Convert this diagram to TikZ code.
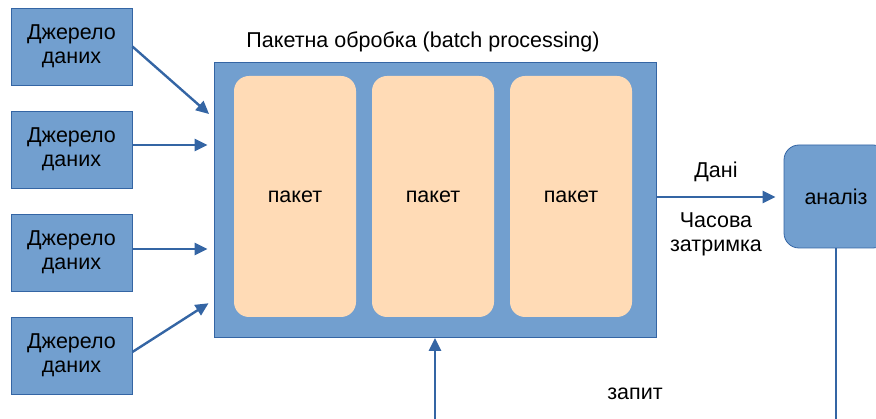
\documentclass[tikz,border=0pt]{standalone}
\usepackage{fontspec}
\setmainfont{Liberation Sans}
\usepackage{tikz}
\usetikzlibrary{arrows.meta,calc}
\definecolor{boxblue}{HTML}{729FCF}
\definecolor{lineblue}{HTML}{3465A4}
\definecolor{peach}{HTML}{FFDBB6}
\tikzstyle{source}=[rectangle, fill=boxblue, draw=lineblue, line width=0.8pt, minimum width=121pt, minimum height=77pt, align=center, font=\fontsize{21.5}{24}\selectfont]
\tikzstyle{batchbox}=[rectangle, fill=boxblue, draw=lineblue, line width=0.8pt, minimum width=442pt, minimum height=275pt]
\tikzstyle{packet}=[rectangle, rounded corners=15pt, fill=peach, minimum width=122pt, minimum height=241pt, font=\fontsize{21.5}{24}\selectfont]
\tikzstyle{label}=[align=center, font=\fontsize{21.5}{24}\selectfont]
\tikzstyle{arrow}=[-{Triangle[length=13pt,width=12pt]}, draw=lineblue, fill=lineblue, line width=2.4pt]

\begin{document}
\begin{tikzpicture}[x=1pt, y=-1pt]
            \useasboundingbox (0, 0) rectangle (876, 419);
            \clip (0, 0) rectangle (876, 419);
            \node [style=source] (src1) at (71.5, 46.5) {Джерело\\даних};
            \node [style=source] (src2) at (71.5, 149.5) {Джерело\\даних};
            \node [style=source] (src3) at (71.5, 252.5) {Джерело\\даних};
            \node [style=source] (src4) at (71.5, 355.5) {Джерело\\даних};

            \node [style=batchbox] (batch) at (435, 200) {};
            \node [style=label] (title) at (423, 42) {Пакетна обробка (batch processing)};
            \node [style=packet] (pak1) at (295, 196.5) {пакет};
            \node [style=packet] (pak2) at (433, 196.5) {пакет};
            \node [style=packet] (pak3) at (571, 196.5) {пакет};

            \node [style=source, rounded corners=15pt, minimum width=104pt, minimum height=103pt] (analysis) at (836, 196.5) {аналіз};
            \node [style=label] (data) at (716, 172) {Дані};
            \node [style=label] (delay) at (716, 234) {Часова\\затримка};
            \node [style=label] (query) at (635, 394) {запит};

            \coordinate (qbottom) at (435, 425);
            \coordinate (abottom) at (836, 425);

            \draw [style=arrow, shorten >=6pt] (src1.east) -- ($(batch.west)+(0,-82)$);
            \draw [style=arrow, shorten >=6pt] (src2.east |- 0,145) -- ($(batch.west)+(0,-55)$);
            \draw [style=arrow, shorten >=6pt] (src3.east |- 0,249) -- ($(batch.west)+(0,49)$);
            \draw [style=arrow, shorten >=6pt] (src4.east |- 0,352) -- ($(batch.west)+(0,100)$);
            \draw [style=arrow, shorten >=8pt] ($(batch.east)+(0,-3)$) -- (analysis.west |- 0,197);
            \draw [style=arrow] (qbottom) -- (batch.south -| qbottom);
            \draw [draw=lineblue, line width=2.4pt] (analysis.south) -- (abottom);
        \end{tikzpicture}
\end{document}
